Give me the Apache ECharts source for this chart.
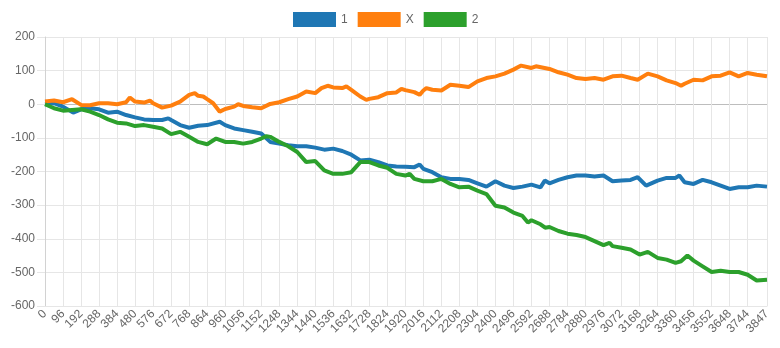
<!DOCTYPE html>
<html>
<head>
<meta charset="utf-8">
<script src="https://cdn.jsdelivr.net/npm/echarts@6/dist/echarts.min.js"></script>
<style>html,body{margin:0;padding:0;background:#fff;}#c{width:780px;height:348px;}</style>
</head>
<body>
<div id="c"></div>
<script>
// categories: step numbers 0..3847
const nCats = 3848;
const tickLabels = [0,96,192,288,384,480,576,672,768,864,960,1056,1152,1248,1344,1440,1536,1632,1728,1824,1920,2016,2112,2208,2304,2400,2496,2592,2688,2784,2880,2976,3072,3168,3264,3360,3456,3552,3648,3744,3847];
const yTicks = [-600,-500,-400,-300,-200,-100,0,100,200];

// series "1"
const idx1 = [0,48,96,150,192,240,288,336,384,432,480,528,576,624,657,672,720,768,816,864,931,960,1008,1056,1104,1152,1200,1248,1296,1344,1392,1440,1488,1536,1584,1632,1680,1728,1776,1824,1872,1920,1968,1996,2016,2064,2112,2160,2208,2256,2304,2352,2400,2448,2496,2544,2592,2640,2663,2688,2736,2784,2832,2880,2928,2976,3024,3072,3120,3158,3203,3264,3312,3360,3380,3408,3456,3504,3552,3600,3648,3696,3744,3792,3847];
const vals1 = [0,3,-7,-25,-15,-12,-15,-25,-22,-32,-39,-45,-47,-47,-42,-47,-62,-70,-64,-62,-52,-62,-72,-77,-82,-87,-112,-117,-122,-125,-125,-129,-135,-132,-139,-150,-167,-165,-172,-182,-185,-186,-187,-179,-192,-202,-217,-222,-222,-225,-235,-245,-229,-242,-249,-245,-239,-247,-227,-235,-225,-217,-212,-212,-215,-212,-229,-227,-225,-217,-242,-227,-219,-219,-212,-232,-237,-225,-232,-242,-252,-247,-247,-242,-245];

// series "X"
const idxX = [0,48,96,144,192,240,288,336,384,432,452,480,528,559,576,624,672,720,768,798,816,843,864,896,931,960,1008,1029,1056,1104,1152,1200,1248,1296,1344,1392,1440,1473,1506,1536,1584,1606,1632,1680,1712,1728,1776,1824,1872,1899,1920,1968,1996,2016,2032,2064,2112,2160,2208,2256,2304,2352,2400,2448,2496,2537,2592,2616,2688,2736,2784,2832,2880,2928,2976,3024,3072,3120,3158,3212,3264,3312,3360,3389,3408,3456,3504,3552,3600,3648,3696,3744,3792,3847];
const valsX = [8,11,6,15,-2,-3,3,3,0,6,20,8,5,11,3,-10,-4,8,28,33,25,23,15,3,-22,-14,-7,0,-5,-9,-12,1,6,15,23,38,33,48,55,50,48,53,43,23,13,16,21,33,35,46,42,36,28,41,48,43,41,58,55,51,68,78,83,91,103,115,108,113,105,95,88,78,75,78,73,83,85,78,73,91,83,71,63,55,61,73,71,83,85,95,83,93,88,83];

// series "2"
const idx2 = [0,48,96,144,192,240,288,336,384,432,480,528,576,624,672,720,768,816,864,912,960,1008,1056,1104,1152,1180,1200,1248,1296,1344,1392,1440,1488,1536,1584,1632,1680,1728,1776,1824,1872,1920,1943,1968,2016,2064,2112,2160,2208,2256,2304,2352,2400,2448,2496,2544,2573,2592,2640,2665,2688,2736,2784,2832,2880,2928,2976,3008,3024,3072,3120,3168,3212,3264,3312,3360,3389,3423,3456,3504,3552,3600,3648,3696,3744,3792,3847];
const vals2 = [0,-12,-19,-17,-15,-22,-32,-45,-55,-57,-65,-62,-67,-72,-89,-82,-97,-112,-119,-102,-112,-112,-117,-112,-102,-95,-97,-112,-125,-142,-172,-169,-197,-207,-207,-202,-172,-172,-182,-189,-207,-212,-207,-222,-229,-229,-222,-237,-247,-245,-257,-267,-302,-307,-322,-332,-352,-345,-357,-367,-365,-377,-385,-389,-395,-407,-419,-412,-422,-427,-432,-447,-439,-457,-462,-472,-467,-450,-465,-482,-499,-495,-499,-499,-507,-524,-522];

const seriesNames = ['1','X','2'];
const colors = ['#1f77b4','#ff7f0e','#2ca02c'];

const cats = [];
for (let i = 0; i < nCats; i++) cats.push(String(i));
const tickSet = new Set(tickLabels);
const showTick = (i) => tickSet.has(i);

function pairs(idx, vals){ return idx.map((x,k)=>[x, vals[k]]); }

const chart = echarts.init(document.getElementById('c'), null, {renderer:'canvas'});
const font = 'Liberation Sans, Arial, Helvetica, sans-serif';
chart.setOption({
  animation: false,
  textStyle: {fontFamily: font},
  color: colors,
  legend: {
    left: 288, top: 7,
    icon: 'rect',
    itemWidth: 43, itemHeight: 15, itemGap: 10,
    textStyle: {fontSize: 12, color: '#666', fontFamily: font},
    data: seriesNames
  },
  grid: {left: 45, right: 13, top: 37, bottom: 42, containLabel: false},
  xAxis: {
    type: 'category',
    data: cats,
    boundaryGap: false,
    axisLine: {onZero: false, lineStyle: {color: '#e6e6e6'}},
    axisTick: {show: false},
    axisLabel: {interval: (i) => showTick(i), rotate: 45, color: '#666', fontSize: 12, margin: 6, fontFamily: font},
    splitLine: {show: true, interval: (i) => showTick(i), lineStyle: {color: '#e6e6e6', width: 1}}
  },
  yAxis: {
    type: 'value',
    min: -600, max: 200, interval: 100,
    axisLine: {show: true, lineStyle: {color: '#d2d2d2'}},
    axisTick: {show: true, length: 8, lineStyle: {color: '#e6e6e6'}},
    axisLabel: {color: '#666', fontSize: 12, margin: 10, fontFamily: font},
    splitLine: {show: true, lineStyle: {color: yTicks.map(v => v === 0 ? '#bdbdbd' : '#e6e6e6')}}
  },
  series: [
    {name: seriesNames[0], type: 'line', data: pairs(idx1, vals1), showSymbol: false, lineStyle: {width: 4, color: colors[0]}, itemStyle: {color: colors[0]}},
    {name: seriesNames[1], type: 'line', data: pairs(idxX, valsX), showSymbol: false, lineStyle: {width: 4, color: colors[1]}, itemStyle: {color: colors[1]}},
    {name: seriesNames[2], type: 'line', data: pairs(idx2, vals2), showSymbol: false, lineStyle: {width: 4, color: colors[2]}, itemStyle: {color: colors[2]}}
  ]
});
</script>
</body>
</html>
